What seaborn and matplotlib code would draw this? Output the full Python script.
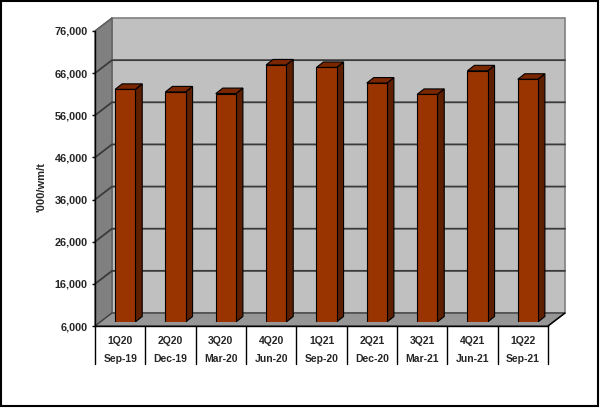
import matplotlib
matplotlib.use("Agg")
import matplotlib.pyplot as plt
import seaborn as sns
import pandas as pd
from matplotlib.patches import Polygon, Rectangle
from matplotlib.ticker import FuncFormatter

quarters = ["1Q20", "2Q20", "3Q20", "4Q20", "1Q21", "2Q21", "3Q21", "4Q21", "1Q22"]
months = ["Sep-19", "Dec-19", "Mar-20", "Jun-20", "Sep-20", "Dec-20", "Mar-21", "Jun-21", "Sep-21"]
values = [61200, 60600, 60200, 67000, 66400, 62700, 60000, 65600, 63600]
y_ticks = list(range(6000, 76001, 10000))
y_label = "'000/wm/t"

df = pd.DataFrame({"quarter": quarters, "value": values})

sns.set_style("white")
plt.rcParams["font.family"] = ["Liberation Sans", "DejaVu Sans"]

W, H = 600, 409
fig = plt.figure(figsize=(W / 100, H / 100), dpi=100)

# geometry in pixels
L, R, T, B = 95, 548, 31, 326
ax = fig.add_axes([L / W, (H - B) / H, (R - L) / W, (B - T) / H])
xmin, xmax = -0.5, len(quarters) - 0.5
ymin, ymax = y_ticks[0], y_ticks[-1]
ax.set_xlim(xmin, xmax)
ax.set_ylim(ymin, ymax)
ux = (xmax - xmin) / (R - L)
uy = (ymax - ymin) / (B - T)
DX, DY = 17 * ux, 13 * uy

ax.patch.set_visible(False)
for s in ["top", "right"]:
    ax.spines[s].set_visible(False)
ax.spines["left"].set_color("black")
ax.spines["bottom"].set_color("black")
ax.spines["left"].set_linewidth(1.0)
ax.spines["bottom"].set_linewidth(1.0)

# walls
back = Polygon([(xmin + DX, ymin + DY), (xmax + DX, ymin + DY), (xmax + DX, ymax + DY), (xmin + DX, ymax + DY)],
               closed=True, facecolor="#C0C0C0", edgecolor="#808080", lw=1.2, clip_on=False, zorder=0)
left = Polygon([(xmin, ymin), (xmin, ymax), (xmin + DX, ymax + DY), (xmin + DX, ymin + DY)],
               closed=True, facecolor="#808080", edgecolor="#606060", lw=1.0, clip_on=False, zorder=0.5)
floor = Polygon([(xmin, ymin), (xmax, ymin), (xmax + DX, ymin + DY), (xmin + DX, ymin + DY)],
                closed=True, facecolor="#969696", edgecolor="#404040", lw=1.0, clip_on=False, zorder=0.5)
for p in (back, left, floor):
    ax.add_patch(p)
for t in y_ticks[1:-1]:
    ax.plot([xmin, xmin + DX, xmax + DX], [t, t + DY, t + DY], color="#3a3a3a", lw=1.3,
            clip_on=False, zorder=0.8)
ax.plot([xmin, xmin + DX], [ymax, ymax + DY], color="#606060", lw=1.0, clip_on=False, zorder=0.8)
ax.plot([xmax, xmax + DX], [ymin, ymin + DY], color="black", lw=1.0, clip_on=False, zorder=0.8)

# bars in an offset axes (bars sit part-way into the depth)
fx, fy = 5, 4
axb = fig.add_axes([(L + fx) / W, (H - B + fy) / H, (R - L) / W, (B - T) / H])
sns.barplot(data=df, x="quarter", y="value", color="#993300", saturation=1, width=0.4,
            edgecolor="black", linewidth=0.8, ax=axb, zorder=3)
axb.set_xlim(xmin, xmax)
axb.set_ylim(ymin, ymax)
axb.axis("off")
bdx, bdy = 7 * ux, 5.5 * uy
for p in list(axb.patches):
    x0, w, h = p.get_x(), p.get_width(), p.get_height()
    top = Polygon([(x0, h), (x0 + w, h), (x0 + w + bdx, h + bdy), (x0 + bdx, h + bdy)], closed=True,
                  facecolor="#7A2600", edgecolor="black", lw=0.8, zorder=2.5)
    side = Polygon([(x0 + w, ymin), (x0 + w, h), (x0 + w + bdx, h + bdy), (x0 + w + bdx, ymin + bdy)], closed=True,
                   facecolor="#5E1E00", edgecolor="black", lw=0.8, zorder=2.5)
    axb.add_patch(side)
    axb.add_patch(top)

# y axis
ax.set_yticks(y_ticks)
ax.yaxis.set_major_formatter(FuncFormatter(lambda v, p: f"{int(v):,}"))
ax.tick_params(axis="y", which="major", length=2.2, width=1, direction="out", left=True,
               labelsize=7.8, pad=3, color="black")
for lab in ax.get_yticklabels():
    lab.set_fontweight("bold")
ax.set_ylabel(y_label, fontsize=8, fontweight="bold")
ax.yaxis.set_label_coords(-49 / (R - L), (B - 187) / (B - T))

# category table
ax.set_xticks(range(len(quarters)))
ax.set_xticklabels([f"{q}\n{m}" for q, m in zip(quarters, months)], fontsize=7.5, fontweight="bold",
                   linespacing=2.0)
ax.tick_params(axis="x", length=0, pad=7)
trans = ax.get_xaxis_transform()
for b in range(len(quarters) + 1):
    ax.plot([b - 0.5, b - 0.5], [0, -38 / (B - T)], color="black", lw=1.0, transform=trans, clip_on=False)

fig.add_artist(Rectangle((1 / W, (H - 406) / H), 597 / W, 405 / H, transform=fig.transFigure,
                         fill=False, edgecolor="black", lw=1.5))

fig.savefig("out.png", dpi=100)
